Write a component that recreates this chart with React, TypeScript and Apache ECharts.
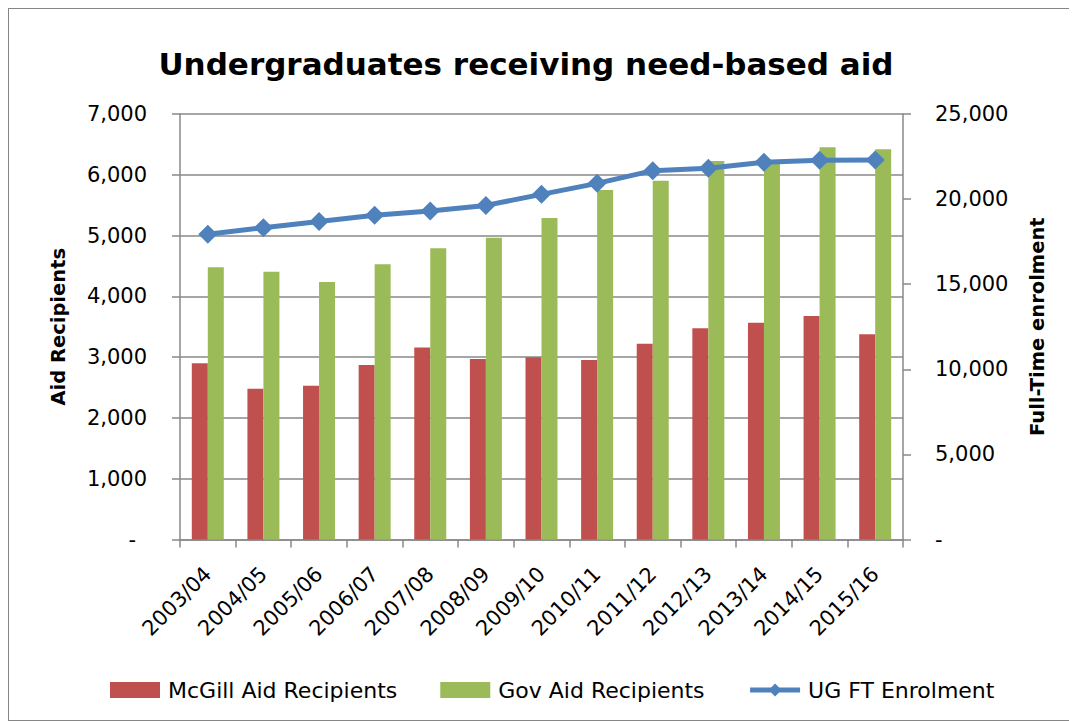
import React, { useEffect, useRef } from "react";
import * as echarts from "echarts";

const categories = ["2003/04", "2004/05", "2005/06", "2006/07", "2007/08", "2008/09", "2009/10", "2010/11", "2011/12", "2012/13", "2013/14", "2014/15", "2015/16"];
const mcgillAid = [2900, 2480, 2530, 2870, 3160, 2970, 3000, 2955, 3220, 3475, 3565, 3675, 3375];
const govAid = [4480, 4405, 4235, 4527, 4790, 4965, 5290, 5750, 5900, 6225, 6200, 6455, 6420];
const ugEnrolment = [17930, 18320, 18690, 19045, 19300, 19630, 20280, 20925, 21670, 21810, 22160, 22280, 22295];

const FONT = "DejaVu Sans";
const GRID_GRAY = "#898989";

const fmt = (v: number) => (v === 0 ? "-" : v.toLocaleString("en-US"));

export default function App() {
  const ref = useRef<HTMLDivElement>(null);
  useEffect(() => {
    document.documentElement.style.overflow = "hidden";
    document.body.style.overflow = "hidden";
    if (!ref.current) return;
    const chart = echarts.init(ref.current, undefined, { renderer: "svg" });
    const axisLine = { show: true, lineStyle: { color: GRID_GRAY, width: 1.5 } };
    chart.setOption({
      animation: false,
      backgroundColor: "#ffffff",
      title: {
        text: "Undergraduates receiving need-based aid",
        left: 517,
        textAlign: "center",
        top: 39,
        padding: 0,
        textStyle: { fontFamily: FONT, fontWeight: "bold", fontSize: 31, color: "#000" },
      },
      grid: { left: 171, top: 105, right: 173, bottom: 180.5, containLabel: false },
      legend: {
        left: 96,
        top: 665,
        itemWidth: 50,
        itemHeight: 16,
        itemGap: 43,
        textStyle: { fontFamily: FONT, fontSize: 22, color: "#000", padding: [0, 0, 0, 3] },
        data: [
          { name: "McGill Aid Recipients", icon: "rect" },
          { name: "Gov Aid Recipients", icon: "rect" },
          { name: "UG FT Enrolment", lineStyle: { width: 5, color: "#4F81BD" } },
        ],
      },
      xAxis: {
        type: "category",
        data: categories,
        boundaryGap: true,
        axisLine,
        axisTick: { show: true, length: 8, interval: 0, lineStyle: { color: GRID_GRAY, width: 1.5 } },
        axisLabel: {
          interval: 0,
          rotate: 45,
          margin: 31,
          fontFamily: FONT,
          fontSize: 21,
          color: "#000",
        },
        splitLine: { show: false },
      },
      yAxis: [
        {
          type: "value",
          min: 0,
          max: 7000,
          interval: 1000,
          name: "Aid Recipients",
          nameLocation: "middle",
          nameRotate: 90,
          nameGap: 112,
          nameTextStyle: { fontFamily: FONT, fontWeight: "bold", fontSize: 19.5, color: "#000" },
          axisLine,
          axisTick: { show: true, length: 8, lineStyle: { color: GRID_GRAY, width: 1.5 } },
          splitLine: { show: true, lineStyle: { color: GRID_GRAY, width: 1.5 } },
          axisLabel: {
            margin: 33,
            fontFamily: FONT,
            fontSize: 21,
            color: "#000",
            formatter: (v: number) => (v === 0 ? "{z|-}" : fmt(v)),
            rich: { z: { fontFamily: FONT, fontSize: 21, color: "#000", padding: [0, 11, 0, 0] } },
          },
        },
        {
          type: "value",
          min: 0,
          max: 25000,
          interval: 5000,
          name: "Full-Time enrolment",
          nameLocation: "middle",
          nameRotate: 90,
          nameGap: 124,
          nameTextStyle: { fontFamily: FONT, fontWeight: "bold", fontSize: 19.5, color: "#000" },
          axisLine,
          axisTick: { show: true, length: 8, lineStyle: { color: GRID_GRAY, width: 1.5 } },
          splitLine: { show: false },
          axisLabel: {
            margin: 32,
            fontFamily: FONT,
            fontSize: 21,
            color: "#000",
            formatter: (v: number) => fmt(v),
          },
        },
      ],
      series: [
        {
          name: "McGill Aid Recipients",
          type: "bar",
          data: mcgillAid,
          barWidth: 16,
          barGap: "0%",
          itemStyle: { color: "#C0504D" },
        },
        {
          name: "Gov Aid Recipients",
          type: "bar",
          data: govAid,
          barWidth: 16,
          barGap: "0%",
          itemStyle: { color: "#9BBB59" },
        },
        {
          name: "UG FT Enrolment",
          type: "line",
          yAxisIndex: 1,
          data: ugEnrolment,
          symbol: "diamond",
          symbolSize: 19,
          lineStyle: { color: "#4F81BD", width: 5 },
          itemStyle: { color: "#4F81BD" },
          z: 5,
        },
      ],
    });
    return () => chart.dispose();
  }, []);
  return (
    <div
      style={{
        position: "relative",
        width: 1069,
        height: 713,
        border: "1px solid #868686",
        boxSizing: "border-box",
        background: "#fff",
      }}
    >
      <div ref={ref} style={{ position: "absolute", left: 0, top: 0, width: 1067, height: 711 }} />
    </div>
  );
}
